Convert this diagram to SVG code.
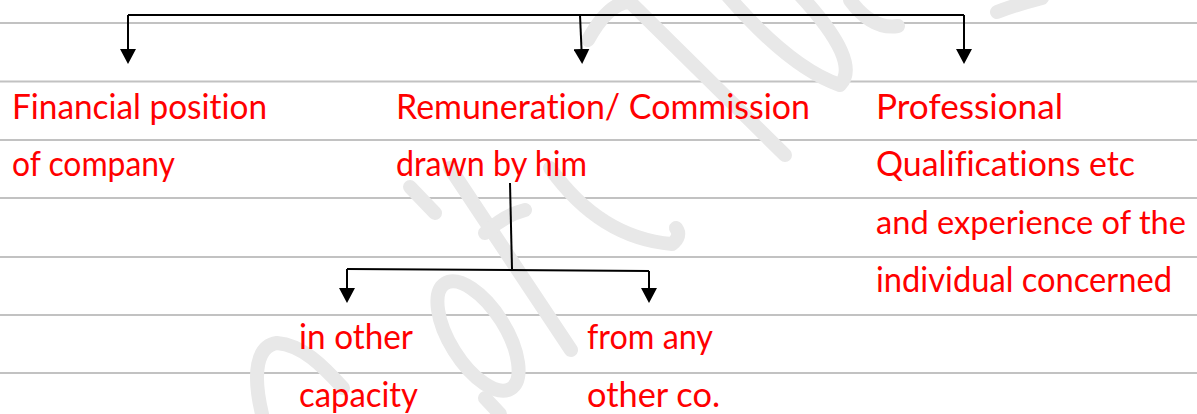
<svg xmlns="http://www.w3.org/2000/svg" width="1197" height="414" viewBox="0 0 1197 414">
  <style>
    .rule { stroke: #c2c2c2; stroke-width: 2; }
    .wm { fill: none; stroke: #e8e8e8; stroke-width: 14; stroke-linecap: round; stroke-linejoin: round; }
    .link { fill: none; stroke: #000; stroke-width: 2; }
    .arrow { fill: none; stroke: #000; stroke-width: 2; marker-end: url(#head); }
    .label { font-family: Lato, "Open Sans", "Liberation Sans", sans-serif; font-size: 35px; fill: #ff0000; font-variant-ligatures: none; }
    .tight { font-size: 33px; }
  </style>
  <defs>
    <marker id="head" viewBox="0 0 15 16" refX="0" refY="8" markerWidth="15" markerHeight="16" markerUnits="userSpaceOnUse" orient="auto">
      <path d="M0,0 L15,8 L0,16 Z" fill="#000"/>
    </marker>
  </defs>

  <rect width="1197" height="414" fill="#ffffff"/>

  <!-- notebook ruling -->
  <g id="ruling">
    <line class="rule" x1="0" y1="23" x2="1197" y2="23"/>
    <line class="rule" x1="0" y1="81.5" x2="1197" y2="81.5"/>
    <line class="rule" x1="0" y1="140" x2="1197" y2="140"/>
    <line class="rule" x1="0" y1="198" x2="1197" y2="198"/>
    <line class="rule" x1="0" y1="257" x2="1197" y2="257"/>
    <line class="rule" x1="0" y1="315" x2="1197" y2="315"/>
    <line class="rule" x1="0" y1="373" x2="1197" y2="373"/>
  </g>

  <!-- faint background signature strokes -->
  <g id="watermark">
    <path class="wm" d="M588,40 C600,18 615,2 630,2 L785,155"/>
    <path class="wm" d="M727,-5 Q790,68 840,85 Q862,62 800,-5"/>
    <path class="wm" d="M850,0 Q872,30 898,26"/>
    <path class="wm" d="M997,12 Q1015,5 1042,-2"/>
    <path class="wm" d="M410,187 L435,213"/>
    <path class="wm" d="M450,168 L571,350"/>
    <path class="wm" d="M485,233 Q505,215 525,210"/>
    <path class="wm" d="M550,168 Q600,238 672,244 Q682,236 676,228"/>
    <ellipse class="wm" cx="478" cy="336" rx="28" ry="62" transform="rotate(-32 478 336)"/>
    <path class="wm" d="M262,414 C252,372 257,346 277,343 C302,345 322,365 343,388"/>
    <path class="wm" d="M485,398 L500,414"/>
  </g>

  <!-- connectors -->
  <g id="connectors">
    <path class="link" d="M128,15 L964,15"/>
    <path class="arrow" d="M128,15 L128,49"/>
    <path class="arrow" d="M580,15 L581.5,49"/>
    <path class="arrow" d="M964,15 L964,49"/>
    <path class="link" d="M510,183 L512,269"/>
    <path class="link" d="M347,269 L649,271"/>
    <path class="arrow" d="M347,269 L347,288"/>
    <path class="arrow" d="M649,271 L649,288"/>
  </g>

  <g id="financial-position">
    <text class="label" x="12" y="119" textLength="255" lengthAdjust="spacingAndGlyphs">Financial position</text>
    <text class="label" x="12" y="176" textLength="163" lengthAdjust="spacingAndGlyphs">of company</text>
  </g>

  <g id="remuneration">
    <text class="label" x="396" y="119" textLength="414" lengthAdjust="spacingAndGlyphs">Remuneration/ Commission</text>
    <text class="label" x="396" y="176" textLength="191" lengthAdjust="spacingAndGlyphs">drawn by him</text>
  </g>

  <g id="qualifications">
    <text class="label" x="876" y="119" textLength="187" lengthAdjust="spacingAndGlyphs">Professional</text>
    <text class="label" x="876" y="176" textLength="259" lengthAdjust="spacingAndGlyphs">Qualifications etc</text>
    <text class="label tight" x="876" y="234" textLength="310" lengthAdjust="spacingAndGlyphs">and experience of the</text>
    <text class="label" x="876" y="292" textLength="296" lengthAdjust="spacingAndGlyphs">individual concerned</text>
  </g>

  <g id="other-capacity">
    <text class="label" x="299" y="349" textLength="114" lengthAdjust="spacingAndGlyphs">in other</text>
    <text class="label" x="299" y="407" textLength="119" lengthAdjust="spacingAndGlyphs">capacity</text>
  </g>

  <g id="other-company">
    <text class="label" x="587" y="349" textLength="126" lengthAdjust="spacingAndGlyphs">from any</text>
    <text class="label" x="587" y="407" textLength="133" lengthAdjust="spacingAndGlyphs">other co.</text>
  </g>
</svg>
